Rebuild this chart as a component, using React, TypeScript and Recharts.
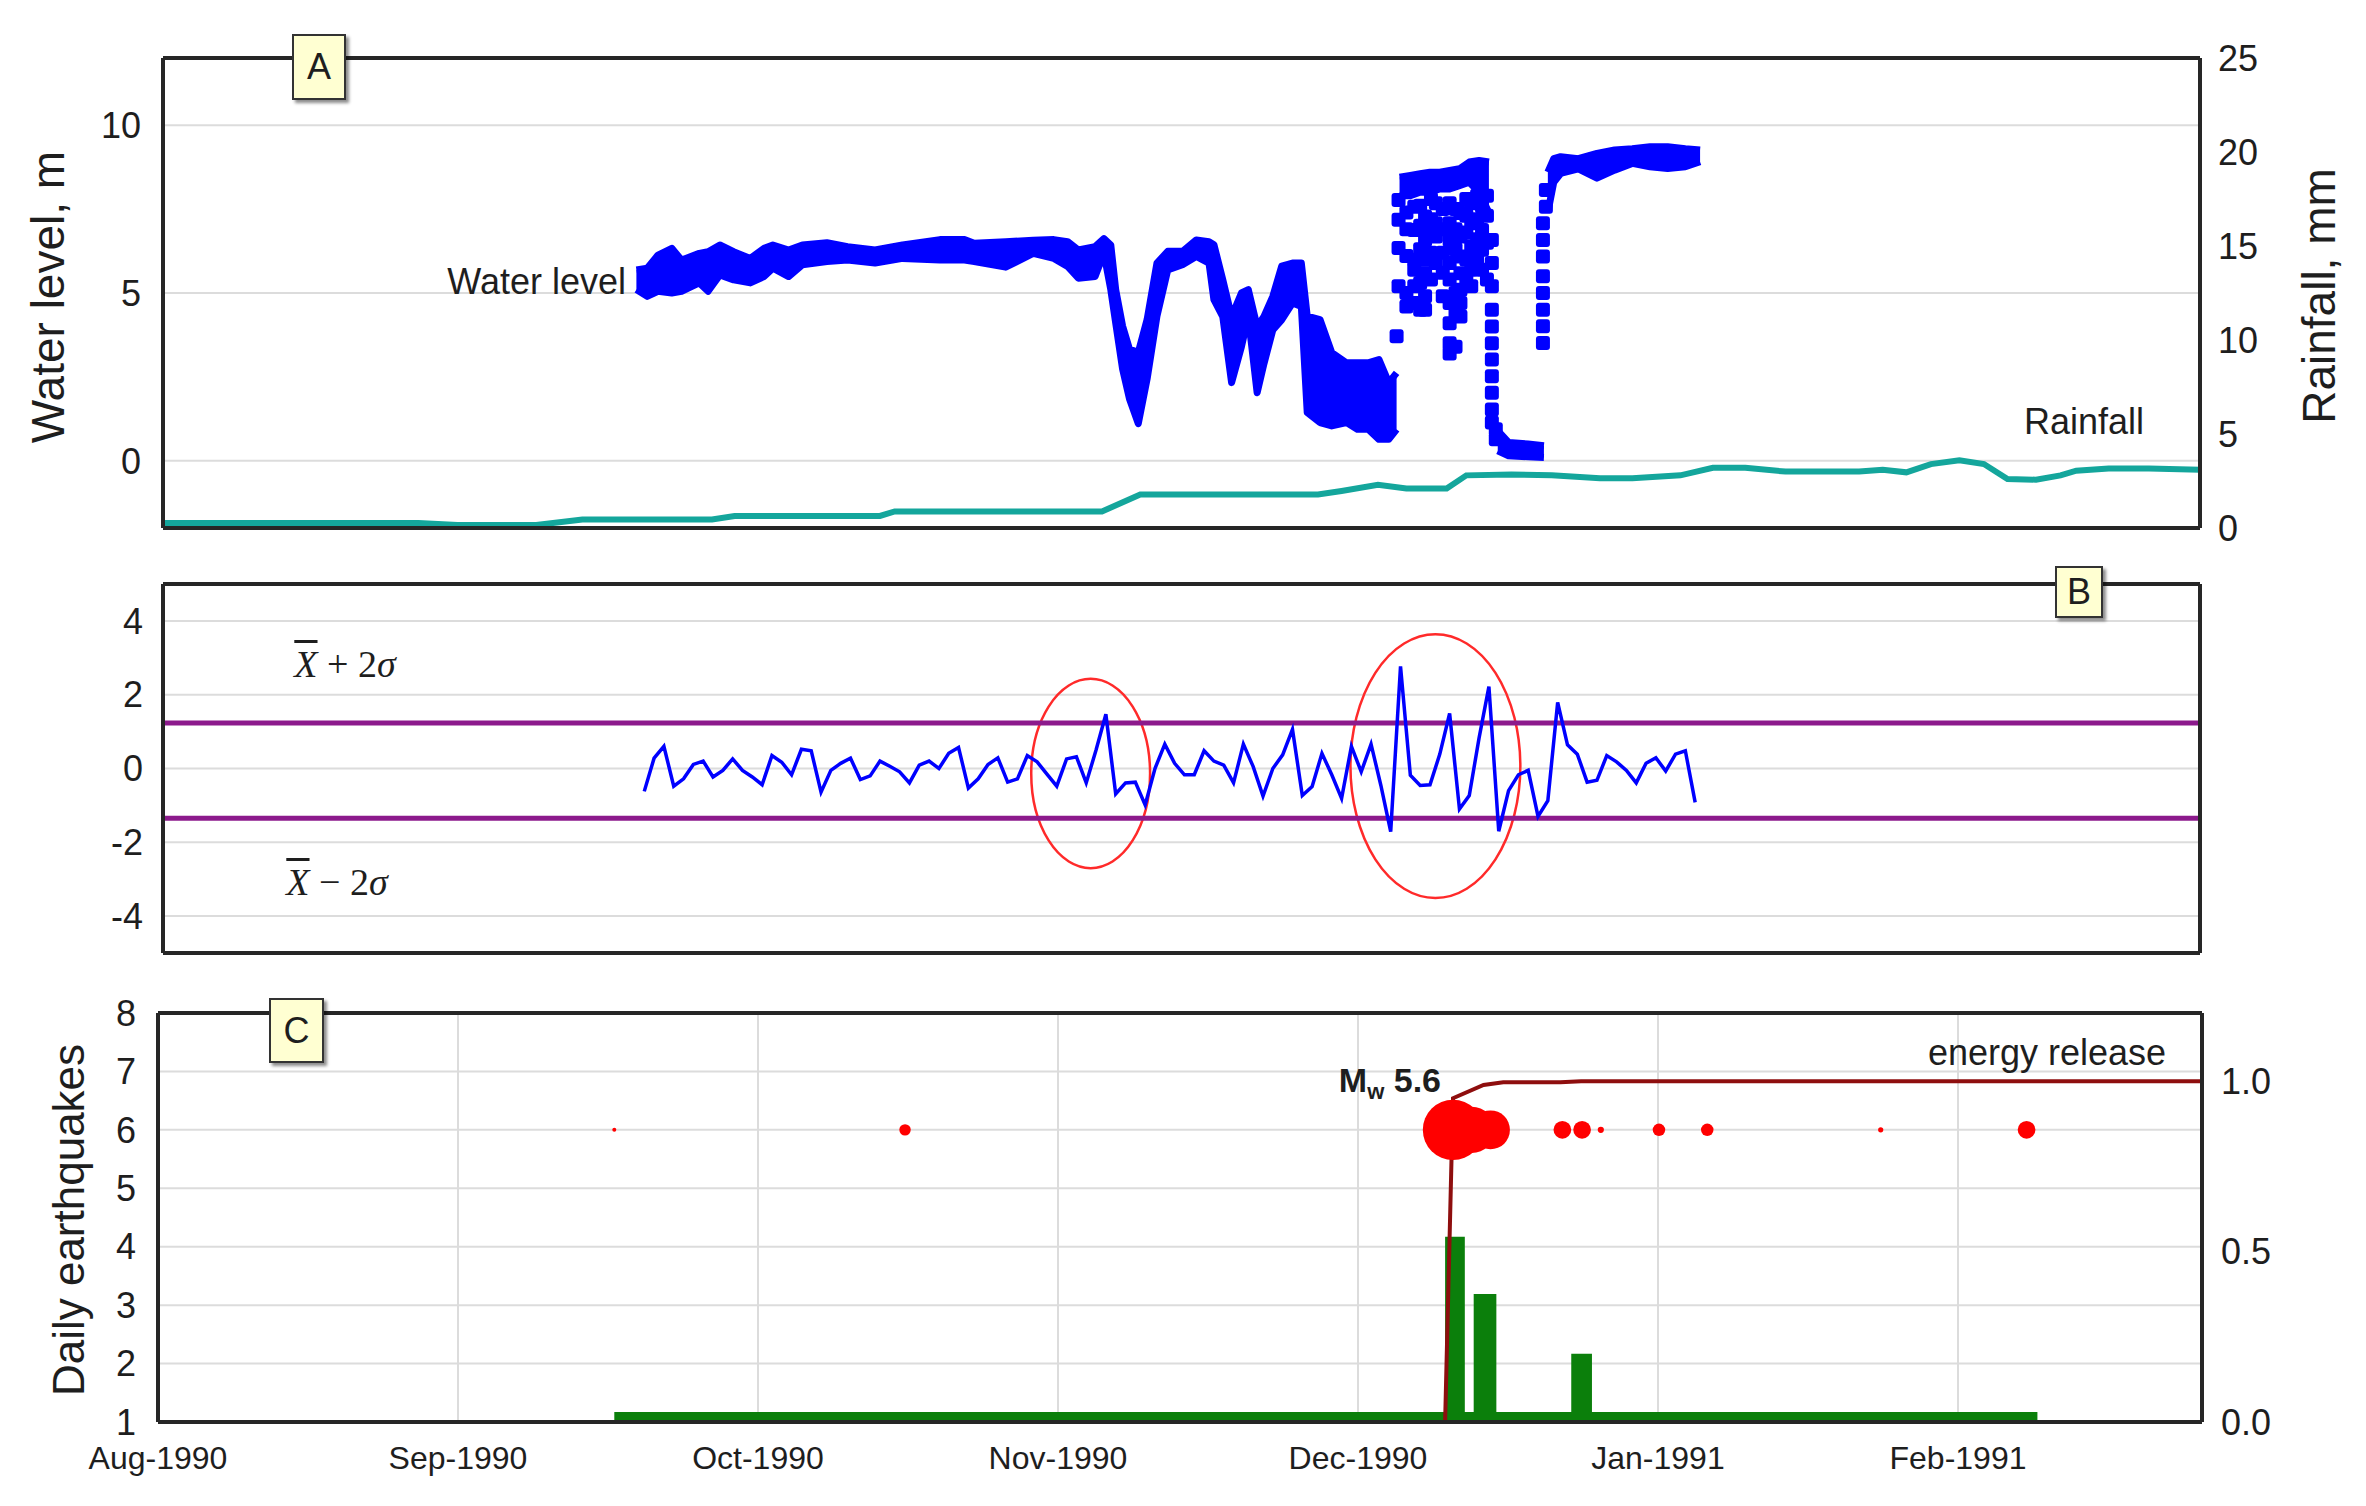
import React from "react";
import {
  ComposedChart,
  Line,
  Area,
  Scatter,
  XAxis,
  YAxis,
  CartesianGrid,
  ReferenceLine,
  ReferenceArea,
} from "recharts";

const W = 2350;
const MONTH = 30.44; // days between month ticks on the time axis
const DAY_MAX = 207.4;
const FONT = "'Liberation Sans', Arial, sans-serif";
const INK = "#1e1e1e";

const monthLabels = ["Aug-1990", "Sep-1990", "Oct-1990", "Nov-1990", "Dec-1990", "Jan-1991", "Feb-1991"];
const monthTicks = monthLabels.map((_, i) => i * MONTH);
const quarterTicks = Array.from({ length: 28 }, (_, i) => (i * MONTH) / 4);

// A: water level band (days since 1 Aug 1990, m); null = break in the record
const bandDays = [
  48.2, 49.3, 50.4, 51.8, 52.8, 54.6, 55.5, 56.7, 58.1, 59.8, 61.2, 62.1, 63.7, 65.1, 67.6, 69.7, 72.5, 75.3,
  79.1, 81.6, 82.6, 85.8, 88.6, 90.7, 92.1, 93.2, 94.9, 95.8, 96.5, 97.0, 97.7, 98.4, 99.3, 100.2, 101.2, 102.3,
  103.8, 105.2, 106.5, 107.0, 107.9, 108.8, 109.8, 110.5, 111.4, 112.1, 113.0, 113.9, 115.0, 115.9, 116.5, 117.8,
  119.0, 120.5, 121.6, 122.7, 123.8, 124.8, 125.6,
  125.7,
  125.9, 127.0, 128.0, 129.0, 130.0, 131.0, 132.0, 133.0, 134.0, 135.0,
  135.5,
  135.9, 137.0, 139.0, 140.6,
  140.8,
  141.0, 141.6, 142.3, 144.1, 146.0, 147.8, 149.6, 151.4, 153.2, 155.0, 156.5,
];
const bandLow = [
  5.1, 4.9, 5.05, 5.0, 5.05, 5.3, 5.05, 5.54, 5.39, 5.3, 5.49, 5.74, 5.49, 5.84, 5.94, 5.98, 5.89, 6.03,
  5.98, 5.98, 5.94, 5.77, 6.18, 6.03, 5.79, 5.44, 5.49, 6.18, 5.1, 4.11, 2.74, 1.85, 1.11, 2.44, 4.31, 5.69,
  5.84, 6.09, 5.89, 4.8, 4.3, 2.33, 3.4, 4.3, 2.03, 2.9, 3.9, 4.2, 4.7, 4.6, 1.44, 1.14,
  1.04, 1.14, 0.94, 0.94, 0.64, 0.64, 0.94,
  null,
  7.9, 7.9, 8.0, 8.0, 8.1, 8.1, 8.2, 8.3, 8.0, 7.4,
  null,
  0.3, 0.15, 0.12, 0.1,
  null,
  7.4, 8.3, 8.56, 8.7, 8.42, 8.66, 8.86, 8.76, 8.71, 8.76, 8.91,
];
const bandHigh = [
  5.69, 5.74, 6.13, 6.33, 5.98, 6.18, 6.23, 6.43, 6.23, 6.03, 6.33, 6.43, 6.28, 6.43, 6.5, 6.38, 6.28, 6.43,
  6.59, 6.59, 6.48, 6.53, 6.57, 6.59, 6.53, 6.28, 6.38, 6.62, 6.43, 5.1, 4.02, 3.33, 3.23, 4.21, 5.89, 6.24,
  6.24, 6.58, 6.53, 6.44, 5.4, 4.3, 5.0, 5.1, 4.0, 4.3, 4.9, 5.8, 5.89, 5.89, 4.31, 4.21,
  3.22, 2.92, 2.92, 2.92, 3.02, 2.33, 2.62,
  null,
  8.45, 8.5, 8.55, 8.6, 8.6, 8.65, 8.7, 8.9, 8.95, 8.9,
  null,
  0.9, 0.55, 0.5, 0.45,
  null,
  8.6, 9.0, 9.06, 9.0, 9.16, 9.26, 9.3, 9.36, 9.36, 9.3, 9.26,
];

// A: scattered water level readings in December (m)
const cloudDays = [
  125.6, 125.8, 126.6, 127.4, 128.0, 128.5, 129.1, 129.6, 130.3, 131.0, 131.6, 132.1, 132.7, 133.2, 133.8, 134.3,
  134.8, 135.3, 135.7, 140.5, 140.8,
];
const cloudLevels = [
  [3.71],
  [7.77, 7.18, 6.34, 5.2],
  [7.4, 6.9, 6.1, 5.0, 4.6],
  [7.57, 6.88, 5.99, 5.69, 5.2, 4.7],
  [7.6, 7.0, 6.3, 5.3, 4.5],
  [7.28, 6.88, 6.58, 5.99, 5.59, 4.9, 4.5],
  [7.8, 7.2, 6.2, 5.4],
  [7.67, 7.08, 6.68, 5.89],
  [7.5, 6.9, 6.2, 5.6, 4.9],
  [7.67, 7.08, 6.58, 5.89, 5.4, 4.7, 4.1, 3.5, 3.2],
  [7.5, 6.9, 6.3, 5.0, 4.4, 3.4],
  [7.38, 6.68, 6.09, 5.59, 5.1, 4.7, 4.3],
  [7.8, 7.3, 6.8, 6.0, 5.4],
  [7.67, 7.08, 6.39, 5.69, 5.2],
  [7.9, 7.2, 6.6, 6.0],
  [7.57, 6.88, 6.29, 5.69],
  [7.9, 7.3, 6.5, 5.4],
  [6.58, 5.89, 5.2, 4.5, 4.0, 3.5, 3.02, 2.52, 2.03, 1.53, 1.14],
  [0.94, 0.64],
  [3.51, 4.01, 4.5, 5.0, 5.5, 6.09, 6.58, 7.08],
  [7.57, 8.07],
];

// A: rainfall (mm)
const rainDays = [
  0, 26, 30, 38, 42.7, 55.9, 58.2, 73, 74.5, 95.6, 99.5, 117.6, 120, 123.7, 126.6, 130.7, 132.7, 137.3, 141.4,
  146.3, 149.6, 154.5, 157.8, 161.1, 165.2, 172.7, 175.1, 177.5, 180, 182.9, 185.4, 187.8, 190.7, 193.2, 194.8,
  198.1, 202.2, 207.4,
];
const rainMm = [
  0.27, 0.27, 0.16, 0.16, 0.45, 0.45, 0.64, 0.64, 0.88, 0.88, 1.78, 1.78, 1.97, 2.3, 2.1, 2.1, 2.8, 2.85, 2.8,
  2.65, 2.65, 2.8, 3.2, 3.2, 3.0, 3.0, 3.1, 2.96, 3.4, 3.6, 3.4, 2.6, 2.57, 2.8, 3.05, 3.16, 3.16, 3.1,
];

// B: daily water-level anomaly, from day 49
const anomalyStartDay = 49;
const anomalyValues = [
  -0.62, 0.28, 0.6, -0.48, -0.28, 0.11, 0.2, -0.23, -0.05, 0.26,
  -0.05, -0.23, -0.44, 0.35, 0.17, -0.17, 0.52, 0.48, -0.64, -0.05,
  0.14, 0.28, -0.3, -0.2, 0.2, 0.06, -0.09, -0.39, 0.09, 0.2,
  0.0, 0.41, 0.57, -0.53, -0.28, 0.11, 0.29, -0.37, -0.28, 0.35,
  0.18, -0.15, -0.48, 0.26, 0.32, -0.39, 0.5, 1.47, -0.69, -0.39,
  -0.37, -0.99, 0.0, 0.66, 0.14, -0.17, -0.17, 0.48, 0.2, 0.09,
  -0.39, 0.66, 0.05, -0.75, 0.0, 0.37, 1.06, -0.73, -0.49, 0.41,
  -0.17, -0.81, 0.6, -0.09, 0.66, -0.46, -1.71, 2.77, -0.18, -0.46,
  -0.44, 0.39, 1.49, -1.1, -0.73, 0.83, 2.22, -1.7, -0.6, -0.17,
  -0.05, -1.3, -0.87, 1.79, 0.64, 0.39, -0.37, -0.32, 0.35, 0.18,
  -0.05, -0.39, 0.14, 0.29, -0.07, 0.39, 0.48, -0.92,
];
const upperLimit = 1.23;
const lowerLimit = -1.35;
// highlighted anomaly windows: [day from, day to, value from, value to]
const anomalyWindows = [
  [88.4, 100.5, -2.7, 2.43],
  [120.9, 138.2, -3.51, 3.64],
];

// C: daily earthquakes (step), energy release (normalised), events
const countDays = [46.3, 130.6, 132.6, 133.5, 135.8, 143.4, 145.5, 190.7];
const counts = [1.17, 4.17, 1.17, 3.19, 1.17, 2.17, 1.17, 1.17];
const energyDays = [46.3, 130.6, 131.4, 134.5, 136.5, 142.3, 144.4, 207.4];
const energyValues = [0, 0, 0.95, 0.989, 0.997, 0.997, 1.0, 1.0];
const eventDays = [46.3, 75.8, 131.4, 133.3, 135.2, 142.5, 144.5, 146.4, 152.3, 157.2, 174.8, 189.6];
const eventMags = [2.5, 3.7, 5.6, 5.3, 5.1, 4.2, 4.2, 3.0, 3.8, 3.8, 2.8, 4.2];
const EVENT_ROW = 6;

const bandSegments: { day: number; range: number[] }[][] = [];
let current: { day: number; range: number[] }[] = [];
bandDays.forEach((day, i) => {
  const lo = bandLow[i];
  const hi = bandHigh[i];
  if (lo == null || hi == null) {
    if (current.length) bandSegments.push(current);
    current = [];
  } else current.push({ day, range: [lo, hi] });
});
if (current.length) bandSegments.push(current);

const cloudRows = cloudDays.flatMap((day, i) => cloudLevels[i].map((level) => ({ day, level })));
const rainRows = rainDays.map((day, i) => ({ day, mm: rainMm[i] }));
const anomalyRows = anomalyValues.map((v, i) => ({ day: anomalyStartDay + i, v }));
const countRows = countDays.map((day, i) => ({ day, n: counts[i] }));
const energyRows = energyDays.map((day, i) => ({ day, e: energyValues[i] }));
const eventRows = eventDays.map((day, i) => ({ day, row: EVENT_ROW, mag: eventMags[i] }));

const range = (a: number, b: number) => Array.from({ length: b - a + 1 }, (_, i) => a + i);

const frame = { stroke: "#262626", strokeWidth: 4 };
const tickLine = { stroke: INK, strokeWidth: 2 };
const tickText = { fontSize: 36, fill: INK, fontFamily: FONT };
const monthText = { fontSize: 32, fill: INK, fontFamily: FONT };

const LevelSquare = (p: any) => (
  <rect x={p.cx - 7} y={p.cy - 7} width={14} height={14} rx={3} fill="#0000FF" />
);
const bubbleRadius = (mag: number) => 2 * Math.pow(2.4, mag - 2.5);
const Bubble = (p: any) => <circle cx={p.cx} cy={p.cy} r={bubbleRadius(p.payload.mag)} fill="#FF0000" />;
const Ellipse = (p: any) => (
  <ellipse
    cx={p.x + p.width / 2}
    cy={p.y + p.height / 2}
    rx={p.width / 2}
    ry={p.height / 2}
    fill="none"
    stroke="#FF2A2A"
    strokeWidth={2.5}
  />
);

const Note = ({ x, y, anchor = "middle", rotate = 0, size = 36, style, children }: any) => {
  const tx = anchor === "start" ? "0" : anchor === "end" ? "-100%" : "-50%";
  return (
    <div
      style={{
        position: "absolute",
        left: x,
        top: y,
        transform: `translate(${tx}, -50%) rotate(${rotate}deg)`,
        fontSize: size,
        lineHeight: 1,
        whiteSpace: "nowrap",
        ...style,
      }}
    >
      {children}
    </div>
  );
};

const Tag = ({ x, y, w, h, children }: any) => (
  <div
    style={{
      position: "absolute",
      left: x,
      top: y,
      width: w,
      height: h,
      boxSizing: "border-box",
      background: "#FFFFD2",
      border: "2px solid #333",
      boxShadow: "3px 3px 3px rgba(0,0,0,0.45)",
      fontSize: 36,
      display: "flex",
      alignItems: "center",
      justifyContent: "center",
    }}
  >
    {children}
  </div>
);

const Sigma = ({ sign }: { sign: string }) => (
  <span style={{ fontFamily: "'Liberation Serif', 'Times New Roman', serif" }}>
    <i style={{ textDecoration: "overline" }}>X</i>
    {` ${sign} 2`}
    <i>σ</i>
  </span>
);

// mirrored, label-less time axis: draws the frame edge and inward tick marks
const timeAxis = (id: string, orientation: "top" | "bottom", ticks: number[], line: boolean) => (
  <XAxis
    xAxisId={id}
    dataKey="day"
    type="number"
    domain={[0, DAY_MAX]}
    allowDataOverflow
    orientation={orientation}
    mirror
    height={1}
    ticks={ticks}
    interval={0}
    tick={false}
    tickSize={9}
    tickLine={tickLine}
    axisLine={line ? frame : false}
  />
);

const minorY = (id: string, orientation: "left" | "right", domain: number[], ticks: number[], line: boolean) => (
  <YAxis
    yAxisId={id}
    orientation={orientation}
    type="number"
    domain={domain}
    allowDataOverflow
    mirror
    width={1}
    ticks={ticks}
    interval={0}
    tick={false}
    tickSize={9}
    tickLine={tickLine}
    axisLine={line ? frame : false}
  />
);

const PanelA = () => (
  <ComposedChart width={W} height={546} margin={{ top: 50, right: 0, bottom: 26, left: 0 }}>
    {timeAxis("x", "bottom", quarterTicks, true)}
    {timeAxis("top", "top", quarterTicks, true)}
    <YAxis
      yAxisId="wl"
      type="number"
      domain={[-2, 12]}
      allowDataOverflow
      ticks={[0, 5, 10]}
      interval={0}
      width={155}
      tick={tickText}
      tickLine={false}
      tickSize={0}
      tickMargin={22}
      axisLine={frame}
    />
    {minorY("wlMinor", "left", [-2, 12], range(-1, 11), false)}
    <YAxis
      yAxisId="rain"
      orientation="right"
      type="number"
      domain={[0, 25]}
      allowDataOverflow
      ticks={[0, 5, 10, 15, 20, 25]}
      interval={0}
      width={158}
      tick={tickText}
      tickLine={false}
      tickSize={0}
      tickMargin={18}
      axisLine={frame}
    />
    {minorY("rainMinor", "right", [0, 25], range(1, 24), false)}
    <CartesianGrid xAxisId="x" yAxisId="wl" verticalValues={monthTicks} horizontalValues={[0, 5, 10]} stroke="#dcdcdc" strokeWidth={2} />
    <Line xAxisId="x" yAxisId="rain" data={rainRows} dataKey="mm" type="linear" stroke="#14A69C" strokeWidth={6} dot={false} isAnimationActive={false} />
    {bandSegments.map((seg, i) => (
      <Area
        key={`band${i}`}
        xAxisId="x"
        yAxisId="wl"
        data={seg}
        dataKey="range"
        type="linear"
        stroke="#0000FF"
        strokeWidth={7}
        strokeLinejoin="round"
        fill="#0000FF"
        fillOpacity={1}
        dot={false}
        activeDot={false}
        isAnimationActive={false}
      />
    ))}
    <Scatter xAxisId="x" yAxisId="wl" data={cloudRows} dataKey="level" shape={LevelSquare} isAnimationActive={false} />
  </ComposedChart>
);

const PanelB = () => (
  <ComposedChart width={W} height={403} margin={{ top: 24, right: 158, bottom: 10, left: 0 }}>
    {timeAxis("x", "bottom", quarterTicks, true)}
    {timeAxis("top", "top", quarterTicks, true)}
    <YAxis
      yAxisId="v"
      type="number"
      domain={[-5, 5]}
      allowDataOverflow
      ticks={[-4, -2, 0, 2, 4]}
      interval={0}
      width={155}
      tick={tickText}
      tickLine={false}
      tickSize={0}
      tickMargin={20}
      axisLine={frame}
    />
    {minorY("vMinor", "left", [-5, 5], range(-4, 4), false)}
    {minorY("vRight", "right", [-5, 5], range(-4, 4), true)}
    <CartesianGrid xAxisId="x" yAxisId="v" verticalValues={monthTicks} horizontalValues={[-4, -2, 0, 2, 4]} stroke="#dcdcdc" strokeWidth={2} />
    <ReferenceLine xAxisId="x" yAxisId="v" y={upperLimit} stroke="#8C1A8C" strokeWidth={5} />
    <ReferenceLine xAxisId="x" yAxisId="v" y={lowerLimit} stroke="#8C1A8C" strokeWidth={5} />
    <Line xAxisId="x" yAxisId="v" data={anomalyRows} dataKey="v" type="linear" stroke="#0000FF" strokeWidth={3.5} dot={false} isAnimationActive={false} />
    {anomalyWindows.map(([x1, x2, y1, y2], i) => (
      <ReferenceArea key={`win${i}`} xAxisId="x" yAxisId="v" x1={x1} x2={x2} y1={y1} y2={y2} shape={Ellipse} />
    ))}
  </ComposedChart>
);

const PanelC = () => (
  <ComposedChart width={W} height={497} margin={{ top: 28, right: 0, bottom: 0, left: 0 }}>
    <XAxis
      xAxisId="x"
      dataKey="day"
      type="number"
      domain={[0, DAY_MAX]}
      allowDataOverflow
      ticks={monthTicks}
      interval={0}
      tickFormatter={(v: number) => monthLabels[Math.round(v / MONTH)]}
      height={60}
      tick={monthText}
      tickLine={false}
      tickSize={0}
      tickMargin={24}
      axisLine={frame}
    />
    {timeAxis("xMinor", "bottom", monthTicks, false)}
    {timeAxis("top", "top", monthTicks, true)}
    <YAxis
      yAxisId="n"
      type="number"
      domain={[1, 8]}
      allowDataOverflow
      ticks={range(1, 8)}
      interval={0}
      width={150}
      tick={tickText}
      tickLine={false}
      tickSize={0}
      tickMargin={22}
      axisLine={frame}
    />
    <YAxis
      yAxisId="e"
      orientation="right"
      type="number"
      domain={[0, 1.2]}
      allowDataOverflow
      ticks={[0, 0.5, 1]}
      interval={0}
      tickFormatter={(v: number) => v.toFixed(1)}
      width={156}
      tick={tickText}
      tickLine={false}
      tickSize={0}
      tickMargin={19}
      axisLine={frame}
    />
    <CartesianGrid xAxisId="x" yAxisId="n" verticalValues={monthTicks} horizontalValues={range(2, 7)} stroke="#dcdcdc" strokeWidth={2} />
    <Area xAxisId="x" yAxisId="n" data={countRows} dataKey="n" type="stepAfter" stroke="none" fill="#0B7F0B" fillOpacity={1} dot={false} activeDot={false} isAnimationActive={false} />
    <Scatter xAxisId="x" yAxisId="n" data={eventRows} dataKey="row" shape={Bubble} isAnimationActive={false} />
    <Line xAxisId="x" yAxisId="e" data={energyRows} dataKey="e" type="linear" stroke="#8E0E0E" strokeWidth={4} dot={false} isAnimationActive={false} />
  </ComposedChart>
);

export default function App() {
  return (
    <div style={{ position: "relative", width: W, height: 1490, fontFamily: FONT, color: INK, background: "#fff" }}>
      <div style={{ position: "absolute", left: 0, top: 0 }}>
        <PanelA />
      </div>
      <div style={{ position: "absolute", left: 0, top: 552 }}>
        <PanelB />
      </div>
      <div style={{ position: "absolute", left: 0, top: 977 }}>
        <PanelC />
      </div>

      <Note x={40} y={289} rotate={-90} size={46}>Water level, m</Note>
      <Note x={2311} y={288} rotate={-90} size={46}>Rainfall, mm</Note>
      <Note x={61} y={1212} rotate={-90} size={44}>Daily earthquakes</Note>

      <Note x={618} y={274} anchor="end">Water level</Note>
      <Note x={2076} y={414}>Rainfall</Note>
      <Note x={337} y={656} size={38}><Sigma sign="+" /></Note>
      <Note x={329} y={874} size={38}><Sigma sign="−" /></Note>
      <Note x={2039} y={1045}>energy release</Note>
      <Note x={1433} y={1075} anchor="end" size={34} style={{ fontWeight: 700 }}>
        M<sub style={{ fontSize: 22 }}>w</sub> 5.6
      </Note>

      <Tag x={284} y={26} w={54} h={66}>A</Tag>
      <Tag x={2047} y={558} w={48} h={52}>B</Tag>
      <Tag x={261} y={990} w={55} h={65}>C</Tag>
    </div>
  );
}
